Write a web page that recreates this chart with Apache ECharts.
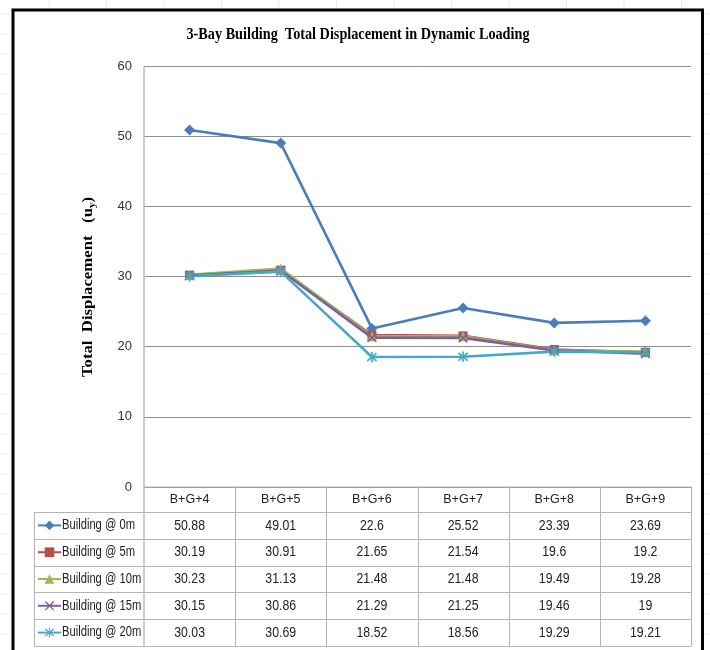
<!DOCTYPE html>
<html><head><meta charset="utf-8">
<script src="https://cdn.jsdelivr.net/npm/echarts@6/dist/echarts.min.js"></script>
<style>html,body{margin:0;padding:0;background:#fff}#c{width:710px;height:650px}</style>
</head><body><div id="c"></div>
<script>
// ---- data ----
const categories = ['B+G+4', 'B+G+5', 'B+G+6', 'B+G+7', 'B+G+8', 'B+G+9'];
const seriesNames = ['Building @ 0m', 'Building @ 5m', 'Building @ 10m', 'Building @ 15m', 'Building @ 20m'];
const building0m  = [50.88, 49.01, 22.6, 25.52, 23.39, 23.69];
const building5m  = [30.19, 30.91, 21.65, 21.54, 19.6, 19.2];
const building10m = [30.23, 31.13, 21.48, 21.48, 19.49, 19.28];
const building15m = [30.15, 30.86, 21.29, 21.25, 19.46, 19];
const building20m = [30.03, 30.69, 18.52, 18.56, 19.29, 19.21];
const yMin = 0, yMax = 60, yStep = 10;
const titleText = '3-Bay Building  Total Displacement in Dynamic Loading';

// ---- styles ----
const values = [building0m, building5m, building10m, building15m, building20m];
const colors = ['#4A7EBB', '#BE4B48', '#98B954', '#7D60A0', '#46AAC5'];
const xPath = 'path://M0,1L1,0L5,4L9,0L10,1L6,5L10,9L9,10L5,6L1,10L0,9L4,5Z';
const starPath = 'path://M0,1L1,0L5,4L9,0L10,1L6,5L10,9L9,10L5,6L1,10L0,9L4,5ZM4.4,-1L5.6,-1L5.6,11L4.4,11Z';
const symbols = ['diamond', 'rect', 'triangle', xPath, starPath];
const symbolSizes = [11, 9, 10, 9, 10];
const SANS = '"Liberation Sans",Arial,sans-serif';
const SERIF = '"Liberation Serif","Times New Roman",serif';

const chart = echarts.init(document.getElementById('c'), null, {renderer: 'canvas'});

const option = {
  backgroundColor: '#ffffff',
  animation: false,
  grid: {left: 144, right: 19, top: 66, bottom: 163, containLabel: false},
  xAxis: {
    type: 'category', data: categories, boundaryGap: true,
    axisLine: {show: false}, axisTick: {show: false},
    axisLabel: {margin: 6, fontSize: 12.5, color: '#222', fontFamily: SANS}
  },
  yAxis: {
    type: 'value', min: yMin, max: yMax, interval: yStep,
    axisLine: {show: false}, axisTick: {show: false},
    axisLabel: {margin: 12, fontSize: 13, color: '#333', fontFamily: SANS},
    splitLine: {lineStyle: {color: '#8e8e8e', width: 1}}
  },
  series: seriesNames.map((n, i) => ({
    name: n, type: 'line', data: values[i],
    symbol: symbols[i], symbolSize: symbolSizes[i],
    lineStyle: {width: 2.6, color: colors[i]},
    itemStyle: {color: colors[i], borderColor: colors[i], borderWidth: i >= 3 ? 0.6 : 0},
    emphasis: {disabled: true}
  }))
};
chart.setOption(option);

// ---- data table + frame (layout from the chart's own scales) ----
const headerH = 25, rowH = 26.8, tblLeft = 34;
function rowCenter(r) {
  const yTop = chart.convertToPixel({yAxisIndex: 0}, yMin);
  return yTop + headerH + rowH * r + rowH / 2;
}
function buildGraphics() {
  const g = [];
  const c0 = chart.convertToPixel({xAxisIndex: 0}, categories[0]);
  const c1 = chart.convertToPixel({xAxisIndex: 0}, categories[1]);
  const cw = c1 - c0;
  const xL = c0 - cw / 2;
  const xR = xL + cw * categories.length;
  const yTop = chart.convertToPixel({yAxisIndex: 0}, yMin);
  const yPlotTop = chart.convertToPixel({yAxisIndex: 0}, yMax);
  const yBottom = yTop + headerH + rowH * seriesNames.length;
  const lineStyle = {stroke: '#b4b4b4', lineWidth: 1};

  // faint sheet gridlines outside the chart frame
  const faint = {stroke: '#ececec', lineWidth: 1};
  for (let x = 49; x < 710; x += 57.5) g.push({type: 'line', shape: {x1: x, y1: 0, x2: x, y2: 8}, style: faint, silent: true});
  for (let y = 14; y < 650; y += 20) {
    g.push({type: 'line', shape: {x1: 0, y1: y, x2: 10, y2: y}, style: faint, silent: true});
    g.push({type: 'line', shape: {x1: 705, y1: y, x2: 710, y2: y}, style: faint, silent: true});
  }
  // chart frame
  g.push({type: 'rect', shape: {x: 13, y: 10, width: 689.5, height: 680}, style: {fill: null, stroke: '#000', lineWidth: 3}, silent: true});

  // plot-area left axis line down through table
  g.push({type: 'line', shape: {x1: xL, y1: yPlotTop, x2: xL, y2: yBottom}, style: {stroke: '#bdbdbd', lineWidth: 1.5}, silent: true});
  // header top + column lines
  g.push({type: 'line', shape: {x1: xL, y1: yTop, x2: xR, y2: yTop}, style: lineStyle, silent: true});
  for (let k = 1; k <= categories.length; k++) {
    const x = Math.round(xL + cw * k) + 0.5;
    g.push({type: 'line', shape: {x1: x, y1: yTop, x2: x, y2: yBottom}, style: lineStyle, silent: true});
  }
  // row lines
  for (let r = 0; r <= seriesNames.length; r++) {
    const y = Math.round(yTop + headerH + rowH * r) + 0.5;
    g.push({type: 'line', shape: {x1: tblLeft, y1: y, x2: xR, y2: y}, style: lineStyle, silent: true});
  }
  g.push({type: 'line', shape: {x1: tblLeft + 0.5, y1: yTop + headerH, x2: tblLeft + 0.5, y2: yBottom}, style: lineStyle, silent: true});

  // row labels (series names) next to the legend keys, narrowed like the spreadsheet font
  seriesNames.forEach((n, r) => {
    g.push({type: 'text', x: 62, y: rowCenter(r), scaleX: 0.8, silent: true,
      style: {text: n, font: '14px ' + SANS, fill: '#222', align: 'left', verticalAlign: 'middle'}});
  });

  // cell values
  values.forEach((vals, r) => {
    const cy = rowCenter(r);
    vals.forEach((v, k) => {
      const cx = chart.convertToPixel({xAxisIndex: 0}, categories[k]);
      g.push({type: 'text', x: cx, y: cy, scaleX: 0.82, silent: true,
        style: {text: String(v), font: '15px ' + SANS, fill: '#222', align: 'center', verticalAlign: 'middle'}});
    });
  });

  // title
  const ctx = document.createElement('canvas').getContext('2d');
  const titleFont = 'bold 17px ' + SERIF;
  ctx.font = titleFont;
  const tw = ctx.measureText(titleText).width;
  g.push({type: 'text', x: 358, y: 35, scaleX: 343 / tw, silent: true,
    style: {text: titleText, font: titleFont, fill: '#000', align: 'center', verticalAlign: 'middle'}});

  // y-axis title (rotated, with subscript)
  const yFont = 'bold 15px ' + SERIF;
  ctx.font = yFont;
  const yw = ctx.measureText('Total  Displacement   (uy)').width;
  g.push({type: 'text', x: 88, y: 287, rotation: Math.PI / 2, scaleX: 183 / yw, silent: true,
    style: {
      text: '{m|Total  Displacement   (u}{s|y}{m|)}',
      align: 'center', verticalAlign: 'middle',
      rich: {
        m: {font: yFont, fill: '#000'},
        s: {font: 'bold 10px ' + SERIF, fill: '#000', padding: [8, 0, 0, 0]}
      }
    }});
  return g;
}

// one legend key per data-table row
const legends = seriesNames.map((n, r) => ({
  data: [n], orient: 'vertical', left: 37, top: rowCenter(r) - 6, padding: 0,
  itemWidth: 23, itemHeight: 12, formatter: () => '',
  textStyle: {fontSize: 12, color: '#222', fontFamily: SANS},
  itemStyle: {borderWidth: 0}
}));
chart.setOption({legend: legends, graphic: {elements: buildGraphics()}});
</script>
</body></html>
